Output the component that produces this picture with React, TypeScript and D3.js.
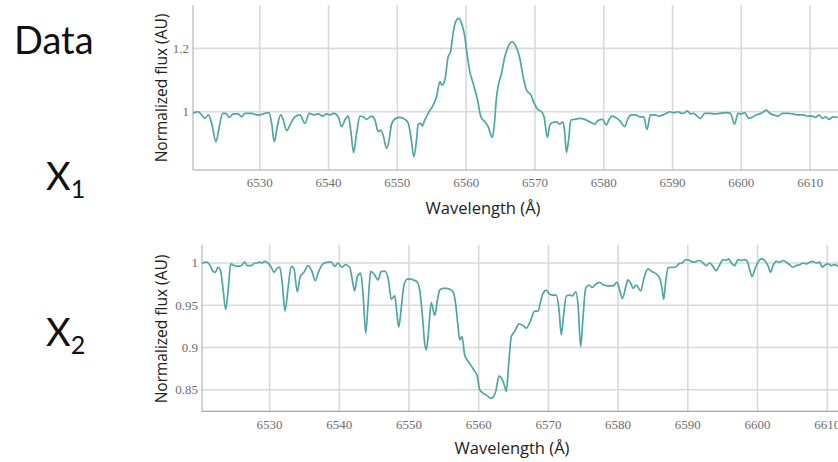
import React from "react";
import * as d3 from "d3";

// ---- Data ----
const topWavelength = [
  6520.26, 6521.07, 6521.56, 6522.04, 6522.52, 6523.02, 6523.64, 6524.12, 6524.61, 6525.09,
  6525.57, 6526.15, 6526.88, 6527.37, 6527.85, 6528.83, 6529.55, 6530.03, 6530.76, 6531.34,
  6531.73, 6532.11, 6532.55, 6533.04, 6533.42, 6533.91, 6534.39, 6535.12, 6535.84, 6536.57,
  6537.19, 6537.88, 6538.5, 6539.14, 6539.72, 6540.2, 6540.78, 6541.41, 6541.9, 6542.38,
  6542.86, 6543.25, 6543.64, 6544.08, 6544.56, 6545.04, 6545.53, 6546.26, 6546.74, 6547.22,
  6547.57, 6547.94, 6548.44, 6548.81, 6549.16, 6549.79, 6550.37, 6551.1, 6551.57, 6551.97,
  6552.4, 6552.79, 6553.03, 6553.42, 6553.61, 6554.0, 6554.48, 6555.21, 6555.7, 6556.18,
  6556.51, 6556.91, 6557.39, 6557.73, 6558.11, 6558.46, 6558.94, 6559.42, 6559.81, 6560.06,
  6560.54, 6561.02, 6561.66, 6562.14, 6562.72, 6563.2, 6563.78, 6564.07, 6564.42, 6564.75,
  6565.14, 6565.62, 6566.1, 6566.68, 6567.22, 6567.8, 6568.28, 6568.77, 6569.4, 6569.88,
  6570.37, 6570.95, 6571.33, 6571.53, 6571.82, 6572.16, 6572.49, 6573.13, 6573.61, 6574.09,
  6574.34, 6574.58, 6574.92, 6575.21, 6575.79, 6576.52, 6577.24, 6577.97, 6578.7, 6579.17,
  6579.81, 6580.39, 6580.73, 6581.21, 6581.7, 6582.33, 6583.05, 6583.53, 6584.03, 6584.65,
  6585.23, 6585.81, 6586.29, 6586.79, 6587.41, 6588.04, 6588.62, 6589.11, 6589.59, 6590.17,
  6590.8, 6591.29, 6591.77, 6592.16, 6592.6, 6593.08, 6593.56, 6594.05, 6594.67, 6595.4,
  6596.13, 6596.85, 6597.72, 6598.41, 6599.03, 6599.51, 6600.0, 6600.48, 6601.11, 6601.69,
  6602.18, 6602.91, 6603.64, 6604.12, 6604.7, 6605.32, 6605.96, 6606.77, 6607.5, 6608.23,
  6608.95, 6609.68, 6610.32, 6610.8, 6611.28, 6611.77, 6612.25, 6612.73, 6613.31, 6613.99,
];
const topFlux = [
  0.995, 1.0, 0.99, 0.979, 0.99, 0.963, 0.905, 0.953, 0.995, 0.995,
  0.982, 0.993, 0.993, 0.984, 0.995, 0.995, 0.99, 0.99, 0.995, 0.997,
  0.963, 0.905, 0.953, 0.99, 0.974, 0.94, 0.958, 0.984, 0.99, 0.963,
  0.995, 0.99, 0.993, 0.986, 0.993, 0.99, 0.995, 0.984, 0.953, 0.974,
  0.986, 0.937, 0.871, 0.932, 0.986, 0.984, 0.976, 0.986, 0.974, 0.937,
  0.942, 0.926, 0.884, 0.911, 0.961, 0.979, 0.982, 0.976, 0.965, 0.921,
  0.858, 0.911, 0.961, 0.963, 0.955, 0.974, 0.995, 1.021, 1.047, 1.095,
  1.084, 1.1, 1.174, 1.189, 1.248, 1.284, 1.295, 1.274, 1.237, 1.195,
  1.126, 1.09, 1.037, 0.984, 0.968, 0.953, 0.919, 0.953, 1.047, 1.09,
  1.121, 1.174, 1.205, 1.221, 1.207, 1.169, 1.111, 1.069, 1.053, 1.027,
  1.008, 1.0, 0.984, 0.953, 0.919, 0.958, 0.965, 0.968, 0.961, 0.968,
  0.932, 0.871, 0.916, 0.974, 0.976, 0.979, 0.976, 0.968, 0.961, 0.972,
  0.976, 0.958, 0.974, 0.986, 0.982, 0.972, 0.953, 0.979, 0.99, 0.99,
  0.984, 0.984, 0.944, 0.99, 0.99, 0.986, 0.99, 0.995, 1.0, 0.997,
  1.0, 0.995, 0.997, 1.003, 0.993, 0.995, 0.986, 0.979, 0.995, 0.995,
  0.993, 0.995, 0.997, 0.995, 0.961, 0.995, 0.993, 0.997, 0.979, 0.984,
  0.99, 0.995, 1.005, 0.995, 0.99, 0.986, 0.995, 0.995, 0.993, 0.99,
  0.99, 0.986, 0.986, 0.982, 0.99, 0.979, 0.984, 0.976, 0.984, 0.982,
];

const bottomWavelength = [
  6520.3, 6520.92, 6521.4, 6521.88, 6522.21, 6522.6, 6522.93, 6523.31, 6523.7, 6524.03,
  6524.42, 6524.89, 6525.47, 6525.94, 6526.43, 6526.8, 6527.37, 6527.86, 6528.23, 6528.58,
  6528.91, 6529.3, 6529.77, 6530.24, 6530.63, 6531.1, 6531.45, 6531.82, 6532.21, 6532.64,
  6533.11, 6533.5, 6533.97, 6534.4, 6534.93, 6535.51, 6536.08, 6536.56, 6537.04, 6537.66,
  6538.38, 6538.85, 6539.34, 6539.81, 6540.39, 6540.86, 6541.49, 6541.82, 6542.21, 6542.58,
  6543.07, 6543.44, 6543.79, 6544.12, 6544.5, 6544.98, 6545.55, 6546.02, 6546.6, 6547.09,
  6547.46, 6547.95, 6548.23, 6548.52, 6548.89, 6549.28, 6549.75, 6550.33, 6550.57, 6551.15,
  6551.53, 6551.91, 6552.25, 6552.48, 6552.72, 6553.2, 6553.69, 6554.02, 6554.4, 6554.88,
  6555.35, 6555.84, 6556.31, 6556.7, 6557.03, 6557.27, 6557.6, 6557.99, 6558.46, 6558.94,
  6559.42, 6559.8, 6560.14, 6560.62, 6561.19, 6561.66, 6562.05, 6562.44, 6562.91, 6563.38,
  6563.73, 6563.96, 6564.3, 6564.68, 6565.16, 6565.78, 6566.35, 6566.83, 6567.4, 6568.03,
  6568.51, 6568.84, 6569.22, 6569.7, 6570.18, 6570.66, 6571.13, 6571.52, 6571.85, 6572.19,
  6572.57, 6573.05, 6573.43, 6573.92, 6574.25, 6574.63, 6574.96, 6575.35, 6575.82, 6576.3,
  6576.78, 6577.36, 6577.93, 6578.55, 6579.27, 6579.84, 6580.23, 6580.6, 6581.17, 6581.42,
  6581.81, 6582.14, 6582.61, 6583.24, 6583.71, 6584.29, 6584.86, 6585.48, 6585.97, 6586.3,
  6586.54, 6586.83, 6587.16, 6587.63, 6588.2, 6588.69, 6589.17, 6589.78, 6590.27, 6590.74,
  6591.22, 6591.71, 6592.18, 6592.65, 6593.14, 6593.61, 6594.09, 6594.57, 6595.05, 6595.43,
  6595.87, 6596.24, 6596.73, 6597.2, 6597.67, 6598.16, 6598.53, 6598.88, 6599.21, 6599.6,
  6600.07, 6600.54, 6601.03, 6601.5, 6601.89, 6602.22, 6602.7, 6603.18, 6603.66, 6604.13,
  6604.62, 6605.09, 6605.56, 6606.05, 6606.53, 6607.0, 6607.49, 6607.96, 6608.43, 6608.92,
  6609.29, 6609.73, 6610.11, 6610.59, 6611.07, 6611.55,
];
const bottomFlux = [
  1.0, 1.001, 0.998, 0.99, 0.989, 0.995, 0.992, 0.97, 0.945, 0.966,
  0.999, 0.997, 0.996, 0.997, 1.001, 0.997, 0.997, 1.0, 1.0, 1.001,
  1.0, 1.002, 1.0, 0.995, 0.989, 0.994, 0.995, 0.976, 0.943, 0.97,
  0.996, 0.993, 0.966, 0.984, 0.989, 0.997, 0.99, 0.979, 0.99, 0.999,
  1.001, 1.001, 0.996, 1.0, 0.995, 0.998, 0.995, 0.982, 0.967, 0.984,
  0.988, 0.959, 0.917, 0.951, 0.99, 0.987, 0.98, 0.99, 0.99, 0.978,
  0.957, 0.961, 0.943, 0.924, 0.947, 0.974, 0.981, 0.981, 0.98, 0.978,
  0.968, 0.939, 0.905, 0.897, 0.911, 0.953, 0.938, 0.953, 0.968, 0.97,
  0.97, 0.969, 0.966, 0.951, 0.925, 0.909, 0.913, 0.891, 0.884, 0.878,
  0.872, 0.866, 0.85, 0.846, 0.843, 0.84, 0.841, 0.848, 0.866, 0.862,
  0.854, 0.848, 0.88, 0.913, 0.919, 0.928, 0.926, 0.923, 0.931, 0.943,
  0.943, 0.953, 0.964, 0.968, 0.963, 0.962, 0.962, 0.945, 0.915, 0.939,
  0.961, 0.962, 0.961, 0.966, 0.951, 0.901, 0.935, 0.97, 0.974, 0.971,
  0.975, 0.977, 0.974, 0.973, 0.973, 0.977, 0.968, 0.958, 0.974, 0.98,
  0.976, 0.97, 0.974, 0.967, 0.982, 0.993, 0.99, 0.987, 0.982, 0.97,
  0.957, 0.978, 0.994, 0.995, 0.995, 0.999, 1.0, 1.004, 1.003, 1.001,
  1.002, 1.003, 1.0, 0.997, 1.0, 0.996, 0.991, 0.998, 1.004, 1.003,
  1.005, 1.0, 0.997, 1.004, 1.003, 1.004, 1.002, 0.992, 0.984, 0.992,
  1.001, 1.005, 1.003, 0.997, 0.989, 0.997, 1.002, 1.001, 1.003, 1.001,
  0.998, 0.995, 0.997, 0.998, 1.0, 0.999, 1.001, 1.002, 1.0, 1.001,
  0.995, 0.998, 0.999, 0.997, 0.998, 0.996,
];

const xTicks = [6530, 6540, 6550, 6560, 6570, 6580, 6590, 6600, 6610];
const topYTicks = [1, 1.2];
const topYTickLabels = ["1", "1.2"];
const bottomYTicks = [0.85, 0.9, 0.95, 1];
const bottomYTickLabels = ["0.85", "0.9", "0.95", "1"];
const rowLabels = ["Data", "X", "X"];
const rowSubscripts = ["", "1", "2"];

const W = 838;
const H = 462;
const LINE = "#4ea6a5";
const GRID = "#d9d9d9";
const AXIS = "#a6a6a6";
const TICK_TEXT = "#6e6e6e";
const SANS = "'Open Sans', 'Noto Sans', sans-serif";
const SERIF = "'Liberation Serif', 'DejaVu Serif', serif";

type PanelProps = {
  id: string;
  wl: number[];
  flux: number[];
  xDomain: [number, number];
  xRange: [number, number];
  yDomain: [number, number];
  yRange: [number, number];
  yTicks: number[];
  yTickLabels: string[];
  xTickBaseline: number;
  yLabelCenter: number;
  xLabelX: number;
  xLabelBaseline: number;
};

function Panel(p: PanelProps) {
  const x = d3.scaleLinear().domain(p.xDomain).range(p.xRange);
  const y = d3.scaleLinear().domain(p.yDomain).range(p.yRange);
  const pts = p.wl.map((w, i) => [w, p.flux[i]] as [number, number]);
  const line = d3
    .line<[number, number]>()
    .x((d) => x(d[0]))
    .y((d) => y(d[1]))
    .curve(d3.curveMonotoneX);
  const [x0, x1] = p.xRange;
  const [yb, yt] = p.yRange;
  return (
    <g>
      <defs>
        <clipPath id={p.id}>
          <rect x={x0} y={yt - 2} width={x1 - x0} height={yb - yt + 2} />
        </clipPath>
      </defs>
      {xTicks.map((t) => (
        <line key={"vx" + t} x1={x(t)} x2={x(t)} y1={yt} y2={yb} stroke={GRID} strokeWidth={1.6} />
      ))}
      {p.yTicks.map((t) => (
        <line key={"hy" + t} x1={x0} x2={x1} y1={y(t)} y2={y(t)} stroke={GRID} strokeWidth={1.6} />
      ))}
      <line x1={x0} x2={x0} y1={yt} y2={yb} stroke={AXIS} strokeWidth={1} />
      <line x1={x0} x2={x1} y1={yb} y2={yb} stroke={AXIS} strokeWidth={1.2} />
      <path d={line(pts) || ""} fill="none" stroke={LINE} strokeWidth={1.7} clipPath={`url(#${p.id})`} />
      {xTicks.map((t) => (
        <text
          key={"xt" + t}
          x={x(t)}
          y={p.xTickBaseline}
          textAnchor="middle"
          fontFamily={SERIF}
          fontSize={13}
          fill={TICK_TEXT}
        >
          {t}
        </text>
      ))}
      {p.yTicks.map((t, i) => (
        <text
          key={"yt" + t}
          x={x0 - 4}
          y={y(t)}
          dy="0.33em"
          textAnchor="end"
          fontFamily={SERIF}
          fontSize={13}
          fill={TICK_TEXT}
        >
          {p.yTickLabels[i]}
        </text>
      ))}
      <text
        transform={`translate(167,${p.yLabelCenter}) rotate(-90)`}
        textAnchor="middle"
        fontFamily={SANS}
        fontSize={15.5}
        fill="#222"
      >
        Normalized flux (AU)
      </text>
      <text x={p.xLabelX} y={p.xLabelBaseline} textAnchor="middle" fontFamily={SANS} fontSize={16.5} fill="#222">
        Wavelength (Å)
      </text>
    </g>
  );
}

export default function App() {
  const rowX = [14, 46, 46];
  const rowY = [54, 190, 346];
  return (
    <svg
      width={W}
      height={H}
      viewBox={`0 0 ${W} ${H}`}
      style={{ position: "absolute", left: 0, top: 0, background: "#fff" }}
    >
      <rect x={0} y={0} width={W} height={H} fill="#fff" />
      {rowLabels.map((l, i) => (
        <text key={i} x={rowX[i]} y={rowY[i]} fontFamily="Lato, 'Open Sans', sans-serif" fontSize={38} fill="#111">
          {l}
          {rowSubscripts[i] ? (
            <tspan fontSize={25} dy={8}>
              {rowSubscripts[i]}
            </tspan>
          ) : null}
        </text>
      ))}
      <Panel
        id="clipTop"
        wl={topWavelength}
        flux={topFlux}
        xDomain={[6520.3, 6614.05]}
        xRange={[193, 838]}
        yDomain={[0.816, 1.337]}
        yRange={[170, 5]}
        yTicks={topYTicks}
        yTickLabels={topYTickLabels}
        xTickBaseline={187}
        yLabelCenter={88}
        xLabelX={483}
        xLabelBaseline={214}
      />
      <Panel
        id="clipBottom"
        wl={bottomWavelength}
        flux={bottomFlux}
        xDomain={[6520.3, 6611.55]}
        xRange={[202, 838]}
        yDomain={[0.8244, 1.0217]}
        yRange={[411.3, 244.7]}
        yTicks={bottomYTicks}
        yTickLabels={bottomYTickLabels}
        xTickBaseline={429}
        yLabelCenter={329}
        xLabelX={512}
        xLabelBaseline={454}
      />
    </svg>
  );
}
